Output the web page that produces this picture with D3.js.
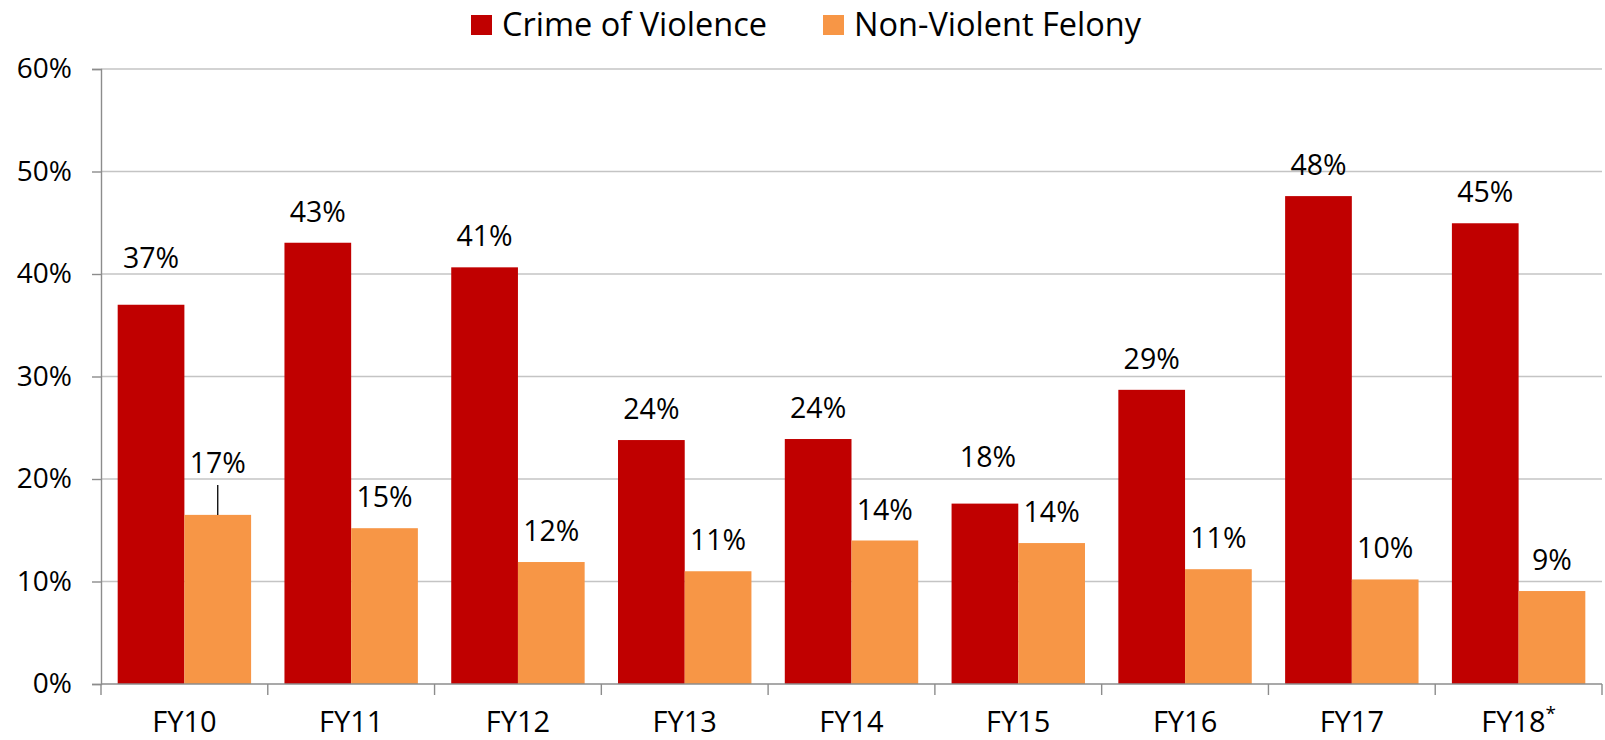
<!DOCTYPE html>
<html>
<head>
<meta charset="utf-8">
<script src="https://cdn.jsdelivr.net/npm/d3@7"></script>
<style>
  body { margin: 0; background: #fff; }
  svg { display: block; font-family: 'Open Sans', sans-serif; }
</style>
</head>
<body>
<script>
// fiscal years along the bottom
const years = ['FY10', 'FY11', 'FY12', 'FY13', 'FY14', 'FY15', 'FY16', 'FY17', 'FY18'];
const seriesNames = ['Crime of Violence', 'Non-Violent Felony'];
// percent
const violence = [37.0, 43.05, 40.65, 23.8, 23.9, 17.6, 28.7, 47.6, 44.95];
const nonViolent = [16.5, 15.2, 11.9, 11.0, 14.0, 13.75, 11.2, 10.2, 9.07];
const yTicks = [0, 10, 20, 30, 40, 50, 60];

const W = 1605, H = 740;
const colors = ['#C00000', '#F79646'];

const svg = d3.select('body').append('svg')
  .attr('width', W)
  .attr('height', H);

const x = d3.scaleBand()
  .domain(years)
  .range([101, 1602]);

// Excel style: 2 bars + half a bar of gap per group
const x1 = d3.scaleBand()
  .domain(seriesNames)
  .range([x.bandwidth() * 0.1, x.bandwidth() * 0.9]);

const y = d3.scaleLinear()
  .domain([0, 60])
  .range([684, 69]);

// gridlines
svg.append('g')
  .selectAll('line')
  .data(yTicks.slice(1))
  .join('line')
    .attr('x1', 101)
    .attr('x2', 1602)
    .attr('y1', d => y(d))
    .attr('y2', d => y(d))
    .attr('stroke', '#c4c4c4')
    .attr('stroke-width', 1.4);

const rows = years.map((yr, i) => ({ year: yr, values: [violence[i], nonViolent[i]] }));

const groups = svg.append('g')
  .selectAll('g')
  .data(rows)
  .join('g')
    .attr('transform', d => `translate(${x(d.year)},0)`);

groups.selectAll('rect')
  .data(d => d.values.map((v, j) => ({ key: seriesNames[j], v, j })))
  .join('rect')
    .attr('x', d => x1(d.key))
    .attr('width', x1.bandwidth())
    .attr('y', d => y(d.v))
    .attr('height', d => y(0) - y(d.v))
    .attr('fill', d => colors[d.j]);

// a few labels were dragged up in the original
const labelLift = { 'FY10|0': 16, 'FY10|1': 21, 'FY15|0': 16 };

groups.each(function (d) {
  const g = d3.select(this);
  d.values.forEach((v, j) => {
    const lift = labelLift[d.year + '|' + j] || 0;
    const cx = x1(seriesNames[j]) + x1.bandwidth() / 2;
    const base = y(v) - 21 - lift;
    g.append('text')
      .attr('x', cx + (d.year === 'FY15' && j === 0 ? 3 : 0))
      .attr('y', base)
      .attr('text-anchor', 'middle')
      .attr('font-size', 28.5)
      .attr('fill', '#000')
      .text(Math.round(v) + '%');
    if (lift > 20) {
      // leader line back to the bar
      g.append('line')
        .attr('x1', cx).attr('x2', cx)
        .attr('y1', base + 12)
        .attr('y2', y(v))
        .attr('stroke', '#000')
        .attr('stroke-width', 1.3);
    }
  });
});

// y axis
const yAxis = d3.axisLeft(y)
  .tickValues(yTicks)
  .tickFormat(d => d + '%')
  .tickSize(9)
  .tickPadding(20);

const yg = svg.append('g')
  .attr('transform', 'translate(101,0)')
  .call(yAxis);
yg.select('.domain').attr('stroke', '#8c8c8c').attr('stroke-width', 1.4);
yg.selectAll('.tick line').attr('stroke', '#8c8c8c').attr('stroke-width', 1.4);
yg.selectAll('.tick text')
  .attr('font-size', 28)
  .attr('font-family', "'Open Sans', sans-serif")
  .attr('fill', '#000');

// x axis: ticks on category boundaries
const xg = svg.append('g');
xg.append('line')
  .attr('x1', 101).attr('x2', 1602)
  .attr('y1', y(0)).attr('y2', y(0))
  .attr('stroke', '#8c8c8c')
  .attr('stroke-width', 1.4);
xg.selectAll('.bound')
  .data(years.map(yr => x(yr)).concat([x.range()[1]]))
  .join('line')
    .attr('class', 'bound')
    .attr('x1', d => d).attr('x2', d => d)
    .attr('y1', y(0)).attr('y2', y(0) + 11)
    .attr('stroke', '#8c8c8c')
    .attr('stroke-width', 1.4);

const xl = xg.selectAll('.xl')
  .data(years)
  .join('text')
    .attr('class', 'xl')
    .attr('x', d => x(d) + x.bandwidth() / 2)
    .attr('y', 732)
    .attr('text-anchor', 'middle')
    .attr('font-size', 29)
    .attr('fill', '#000')
    .text(d => d);
// last year is provisional
xl.filter(d => d === 'FY18')
  .append('tspan')
    .attr('font-size', 19)
    .attr('dy', -12)
    .text('*');

// legend
const legend = svg.append('g');
const legendX = [471, 823];
seriesNames.forEach((name, i) => {
  legend.append('rect')
    .attr('x', legendX[i])
    .attr('y', 15)
    .attr('width', 21)
    .attr('height', 20)
    .attr('fill', colors[i]);
  legend.append('text')
    .attr('x', legendX[i] + 31)
    .attr('y', 36)
    .attr('font-size', 32.5)
    .attr('fill', '#000')
    .text(name);
});
</script>
</body>
</html>
